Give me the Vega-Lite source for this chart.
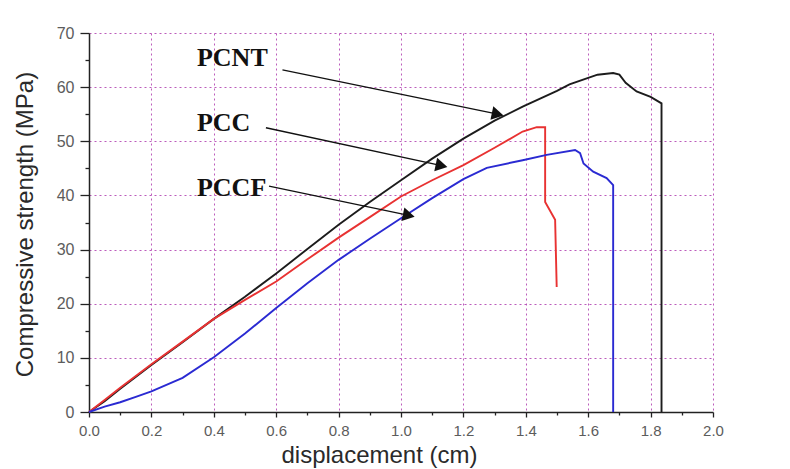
{
  "$schema": "https://vega.github.io/schema/vega-lite/v6.json",
  "autosize": {"type": "none"},
  "padding": {"left": 89, "top": 33, "right": 77, "bottom": 57},
  "width": 624,
  "height": 379,
  "background": "white",
  "config": {
    "view": {"stroke": null},
    "axis": {
      "domainColor": "#222",
      "domainWidth": 1.5,
      "tickColor": "#222",
      "tickWidth": 1.3,
      "labelFont": "Liberation Sans",
      "labelColor": "#5c5c5c",
      "labelFlush": false,
      "labelOverlap": false,
      "titleFont": "Liberation Sans",
      "titleFontSize": 24,
      "titleFontWeight": "normal",
      "titleColor": "#2a2a2a",
      "titleBaseline": "alphabetic",
      "gridColor": "#b040b0",
      "gridDash": [2, 3],
      "gridWidth": 1
    }
  },
  "datasets": {
    "curves": [
      {"s": "PCNT", "x": 0.0, "y": 0.0},
      {"s": "PCNT", "x": 0.05, "y": 2.0},
      {"s": "PCNT", "x": 0.1, "y": 4.3},
      {"s": "PCNT", "x": 0.2, "y": 8.7},
      {"s": "PCNT", "x": 0.3, "y": 12.9},
      {"s": "PCNT", "x": 0.4, "y": 17.2},
      {"s": "PCNT", "x": 0.5, "y": 21.3},
      {"s": "PCNT", "x": 0.6, "y": 25.6},
      {"s": "PCNT", "x": 0.7, "y": 30.1},
      {"s": "PCNT", "x": 0.8, "y": 34.6},
      {"s": "PCNT", "x": 0.9, "y": 38.8},
      {"s": "PCNT", "x": 1.0, "y": 42.8},
      {"s": "PCNT", "x": 1.1, "y": 46.8},
      {"s": "PCNT", "x": 1.2, "y": 50.5},
      {"s": "PCNT", "x": 1.3, "y": 53.8},
      {"s": "PCNT", "x": 1.39, "y": 56.4},
      {"s": "PCNT", "x": 1.5, "y": 59.3},
      {"s": "PCNT", "x": 1.54, "y": 60.5},
      {"s": "PCNT", "x": 1.6, "y": 61.7},
      {"s": "PCNT", "x": 1.63, "y": 62.3},
      {"s": "PCNT", "x": 1.68, "y": 62.6},
      {"s": "PCNT", "x": 1.70, "y": 62.3},
      {"s": "PCNT", "x": 1.72, "y": 60.8},
      {"s": "PCNT", "x": 1.755, "y": 59.2},
      {"s": "PCNT", "x": 1.80, "y": 58.2},
      {"s": "PCNT", "x": 1.835, "y": 57.0},
      {"s": "PCNT", "x": 1.835, "y": 0.0},
      {"s": "PCC", "x": 0.0, "y": 0.0},
      {"s": "PCC", "x": 0.05, "y": 2.2},
      {"s": "PCC", "x": 0.1, "y": 4.5},
      {"s": "PCC", "x": 0.2, "y": 8.8},
      {"s": "PCC", "x": 0.3, "y": 13.0},
      {"s": "PCC", "x": 0.4, "y": 17.2},
      {"s": "PCC", "x": 0.5, "y": 20.7},
      {"s": "PCC", "x": 0.6, "y": 24.1},
      {"s": "PCC", "x": 0.7, "y": 28.2},
      {"s": "PCC", "x": 0.8, "y": 32.2},
      {"s": "PCC", "x": 0.9, "y": 36.0},
      {"s": "PCC", "x": 1.0, "y": 39.8},
      {"s": "PCC", "x": 1.1, "y": 42.8},
      {"s": "PCC", "x": 1.2, "y": 45.6},
      {"s": "PCC", "x": 1.3, "y": 48.8},
      {"s": "PCC", "x": 1.39, "y": 51.8},
      {"s": "PCC", "x": 1.435, "y": 52.6},
      {"s": "PCC", "x": 1.462, "y": 52.6},
      {"s": "PCC", "x": 1.462, "y": 38.8},
      {"s": "PCC", "x": 1.494, "y": 35.5},
      {"s": "PCC", "x": 1.499, "y": 23.1},
      {"s": "PCCF", "x": 0.0, "y": 0.0},
      {"s": "PCCF", "x": 0.05, "y": 1.0},
      {"s": "PCCF", "x": 0.1, "y": 1.8},
      {"s": "PCCF", "x": 0.15, "y": 2.8},
      {"s": "PCCF", "x": 0.2, "y": 3.8},
      {"s": "PCCF", "x": 0.3, "y": 6.3},
      {"s": "PCCF", "x": 0.4, "y": 10.1},
      {"s": "PCCF", "x": 0.5, "y": 14.5},
      {"s": "PCCF", "x": 0.6, "y": 19.2},
      {"s": "PCCF", "x": 0.7, "y": 23.8},
      {"s": "PCCF", "x": 0.8, "y": 28.1},
      {"s": "PCCF", "x": 0.9, "y": 32.0},
      {"s": "PCCF", "x": 1.0, "y": 35.8},
      {"s": "PCCF", "x": 1.1, "y": 39.5},
      {"s": "PCCF", "x": 1.2, "y": 43.0},
      {"s": "PCCF", "x": 1.275, "y": 45.1},
      {"s": "PCCF", "x": 1.39, "y": 46.5},
      {"s": "PCCF", "x": 1.467, "y": 47.5},
      {"s": "PCCF", "x": 1.558, "y": 48.4},
      {"s": "PCCF", "x": 1.574, "y": 47.8},
      {"s": "PCCF", "x": 1.585, "y": 45.9},
      {"s": "PCCF", "x": 1.616, "y": 44.4},
      {"s": "PCCF", "x": 1.659, "y": 43.2},
      {"s": "PCCF", "x": 1.68, "y": 41.9},
      {"s": "PCCF", "x": 1.68, "y": 0.0}
    ],
    "notes": [
      {"label": "PCNT", "tx": 0.346, "ty": 65.4, "x1": 0.62, "y1": 63.2, "x2": 1.31, "y2": 55.0},
      {"label": "PCC", "tx": 0.346, "ty": 53.4, "x1": 0.567, "y1": 52.5, "x2": 1.13, "y2": 45.5},
      {"label": "PCCF", "tx": 0.346, "ty": 41.4, "x1": 0.577, "y1": 41.7, "x2": 1.025, "y2": 36.3}
    ]
  },
  "encoding": {
    "x": {
      "type": "quantitative",
      "scale": {"domain": [0, 2], "nice": false, "zero": false},
      "axis": {
        "title": "displacement (cm)",
        "titleX": 290,
        "titleY": 50,
        "values": [0, 0.1, 0.2, 0.3, 0.4, 0.5, 0.6, 0.7, 0.8, 0.9, 1.0, 1.1, 1.2, 1.3, 1.4, 1.5, 1.6, 1.7, 1.8, 1.9, 2.0],
        "labelExpr": "round(datum.value*10) % 2 === 0 ? format(datum.value, '.1f') : ''",
        "labelFontSize": 15,
        "tickSize": {"condition": {"test": "round(datum.value*10) % 2 !== 0", "value": 3}, "value": 5},
        "gridOpacity": {"condition": {"test": "round(datum.value*10) % 2 !== 0", "value": 0}, "value": 0.85},
        "labelPadding": 6,
        "grid": true
      }
    },
    "y": {
      "type": "quantitative",
      "scale": {"domain": [0, 70], "nice": false},
      "axis": {
        "title": "Compressive strength (MPa)",
        "titleX": -57,
        "titleY": 191,
        "values": [0, 5, 10, 15, 20, 25, 30, 35, 40, 45, 50, 55, 60, 65, 70],
        "labelExpr": "datum.value % 10 === 0 ? format(datum.value, 'd') : ''",
        "labelFontSize": 16,
        "tickSize": {"condition": {"test": "datum.value % 10 !== 0", "value": 4}, "value": 9},
        "gridOpacity": {"condition": {"test": "datum.value % 10 !== 0", "value": 0}, "value": 0.85},
        "labelPadding": 6,
        "grid": true
      }
    }
  },
  "layer": [
    {
      "data": {"name": "curves"},
      "mark": {"type": "line", "strokeWidth": 1.9, "interpolate": "linear"},
      "encoding": {
        "x": {"field": "x", "type": "quantitative"},
        "y": {"field": "y", "type": "quantitative"},
        "color": {
          "field": "s",
          "type": "nominal",
          "scale": {"domain": ["PCNT", "PCC", "PCCF"], "range": ["#1c1c1c", "#e83232", "#2a2ad2"]},
          "legend": null
        },
        "order": {"value": null}
      }
    },
    {
      "data": {"name": "notes"},
      "mark": {"type": "rule", "color": "#111", "strokeWidth": 1.3},
      "encoding": {
        "x": {"field": "x1", "type": "quantitative"},
        "y": {"field": "y1", "type": "quantitative"},
        "x2": {"field": "x2"},
        "y2": {"field": "y2"}
      }
    },
    {
      "data": {"name": "notes"},
      "mark": {"type": "point", "shape": "triangle-right", "angle": 12, "size": 190, "filled": true, "color": "#111", "opacity": 1},
      "encoding": {
        "x": {"field": "x2", "type": "quantitative"},
        "y": {"field": "y2", "type": "quantitative"}
      }
    },
    {
      "data": {"name": "notes"},
      "mark": {"type": "text", "align": "left", "baseline": "middle", "font": "Liberation Serif", "fontSize": 26, "fontWeight": "bold", "color": "#111"},
      "encoding": {
        "x": {"field": "tx", "type": "quantitative"},
        "y": {"field": "ty", "type": "quantitative"},
        "text": {"field": "label"}
      }
    }
  ]
}
